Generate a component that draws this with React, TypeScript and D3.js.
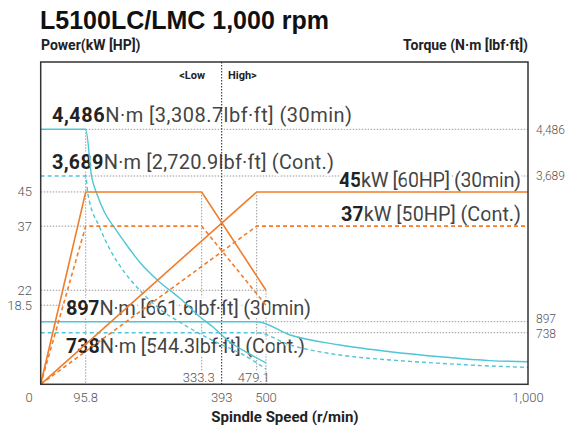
import * as d3 from 'd3';

const W = 569;
const H = 430;

// speed axis is drawn schematic (not proportional), so the scale is piecewise
const speedStops = [0, 95.8, 333.3, 393, 479.1, 500, 1000];
const torqueStops = [0, 738, 897, 3689, 4486];

const speedTicks = [0, 95.8, 393, 500, 1000];
const speedTicksInner = [333.3, 479.1];
const powerTicks = [45, 37, 22, 18.5];
const torqueTicks = [4486, 3689, 897, 738];

// power, kW
const lowPower30 = [[0, 0], [95.8, 45], [333.3, 45], [500, 22]];
const lowPowerCont = [[0, 0], [95.8, 37], [333.3, 37], [500, 18.5]];
const highPower30 = [[0, 0], [479.1, 45], [1000, 45]];
const highPowerCont = [[0, 0], [479.1, 37], [1000, 37]];

// torque, N·m
const lowTorque30 = [
  [0, 4486], [95.8, 4486], [108, 3670], [118, 3363], [134, 3000], [155, 2693],
  [175, 2425], [206, 2042], [247, 1659], [288, 1352], [330, 987], [367, 820],
  [413, 605], [457, 448], [500, 306],
];
const lowTorqueCont = [
  [0, 3689], [95.8, 3689], [100, 3363], [125, 2693], [146, 2272], [166, 1965],
  [206, 1505], [247, 1141], [288, 893], [330, 720], [388, 577], [438, 448], [500, 219],
];
const highTorque30 = [
  [0, 897], [479.1, 897], [546, 705], [641, 562], [737, 466], [832, 395], [927, 339], [1000, 323],
];
const highTorqueCont = [
  [0, 738], [479.1, 738], [546, 562], [641, 419], [737, 348], [832, 300], [927, 262], [1000, 243],
];

const ORANGE = '#f07d2b';
const CYAN = '#4fc5d6';
const GUIDE = '#9a9a9a';
const FONT = 'Roboto, "Noto Sans", sans-serif';

export default function App() {
  const left = 40.7, right = 528, top = 62, bottom = 384.3;

  const x = d3.scaleLinear()
    .domain(speedStops)
    .range([left, 85.7, 201.7, 221.7, 256.7, 266, right]);
  const yP = d3.scaleLinear().domain([0, 75.4]).range([bottom, top]);
  const yT = d3.scaleLinear()
    .domain(torqueStops)
    .range([bottom, 332.7, 321.7, 176, 129.3]);

  const powerLine = d3.line<number[]>().x(d => x(d[0])).y(d => yP(d[1]));
  const torqueLine = d3.line<number[]>()
    .x(d => x(d[0]))
    .y(d => yT(d[1]))
    .curve(d3.curveMonotoneX);

  const fmt = d3.format(',');

  // dotted guides: [x1, x2, y] in data units
  const powerGuides = [[0, 95.8, 45], [0, 95.8, 37], [0, 500, 22], [0, 479.1, 18.5]];
  const torqueGuides = [[95.8, 1000, 4486], [95.8, 1000, 3689], [479.1, 1000, 897], [479.1, 1000, 738]];
  const vGuides = [
    { s: 95.8, y1: yT(4486), y2: bottom },
    { s: 333.3, y1: yP(45), y2: yP(2.9) },
    { s: 479.1, y1: yP(45), y2: yP(2.9) },
    { s: 500, y1: yP(22), y2: bottom },
  ];

  const halo = { stroke: '#fff', strokeWidth: 5, paintOrder: 'stroke' as const, strokeLinejoin: 'round' as const };

  const notes = [
    { num: '4,486', rest: 'N·m [3,308.7lbf·ft] (30min)', x: 52, y: 121.5, anchor: 'start', len: 300 },
    { num: '3,689', rest: 'N·m [2,720.9lbf·ft] (Cont.)', x: 52, y: 169, anchor: 'start', len: 282 },
    { num: '45', rest: 'kW [60HP] (30min)', x: 521, y: 187, anchor: 'end', len: 182 },
    { num: '37', rest: 'kW [50HP] (Cont.)', x: 521, y: 221, anchor: 'end', len: 180 },
    { num: '897', rest: 'N·m [661.6lbf·ft] (30min)', x: 66, y: 315, anchor: 'start', len: 245 },
    { num: '738', rest: 'N·m [544.3lbf·ft] (Cont.)', x: 66, y: 353, anchor: 'start', len: 239 },
  ];

  // small offsets so the two close torque labels don't collide
  const torqueTickShift: Record<number, number> = { 897: -3, 738: 1 };

  return (
    <svg width={W} height={H} style={{ position: 'absolute', left: 0, top: 0, background: '#fff' }} fontFamily={FONT}>
      <text x={40} y={29} fontFamily='"Liberation Sans", Arial, sans-serif' fontWeight={700} fontSize={25} fill="#111">
        L5100LC/LMC 1,000 rpm
      </text>
      <text x={41} y={50} fontWeight={700} fontSize={14} fill="#222">Power(kW [HP])</text>
      <text x={right} y={50} textAnchor="end" fontWeight={700} fontSize={14} fill="#222">Torque (N·m [lbf·ft])</text>

      {/* guides */}
      <g stroke={GUIDE} strokeWidth={1} strokeDasharray="1.5 1.5" fill="none">
        {powerGuides.map((g, i) => (
          <line key={'p' + i} x1={x(g[0])} x2={x(g[1])} y1={yP(g[2])} y2={yP(g[2])} />
        ))}
        {torqueGuides.map((g, i) => (
          <line key={'t' + i} x1={x(g[0])} x2={x(g[1])} y1={yT(g[2])} y2={yT(g[2])} />
        ))}
        {vGuides.map((g, i) => (
          <line key={'v' + i} x1={x(g.s)} x2={x(g.s)} y1={g.y1} y2={g.y2} />
        ))}
      </g>

      {/* annotations */}
      {notes.map((n, i) => (
        <text key={i} x={n.x} y={n.y} textAnchor={n.anchor} fontSize={20}
          textLength={n.len} lengthAdjust="spacing" {...halo}>
          <tspan fontWeight={700} fill="#222">{n.num}</tspan>
          <tspan fill="#444">{n.rest}</tspan>
        </text>
      ))}

      {/* low / high divider */}
      <line x1={x(393)} x2={x(393)} y1={top} y2={bottom} stroke="#222" strokeWidth={1} strokeDasharray="1.5 1.5" />
      <text x={205} y={79} textAnchor="end" fontWeight={700} fontSize={11} fill="#222">{'<Low'}</text>
      <text x={228} y={79} fontWeight={700} fontSize={11} fill="#222">{'High>'}</text>

      {/* curves */}
      <g fill="none" strokeWidth={1.4}>
        <path d={torqueLine(lowTorque30) || ''} stroke={CYAN} />
        <path d={torqueLine(lowTorqueCont) || ''} stroke={CYAN} strokeDasharray="4 3" />
        <path d={torqueLine(highTorque30) || ''} stroke={CYAN} />
        <path d={torqueLine(highTorqueCont) || ''} stroke={CYAN} strokeDasharray="4 3" />
        <path d={powerLine(lowPower30) || ''} stroke={ORANGE} strokeWidth={1.6} />
        <path d={powerLine(lowPowerCont) || ''} stroke={ORANGE} strokeWidth={1.6} strokeDasharray="4 3" />
        <path d={powerLine(highPower30) || ''} stroke={ORANGE} strokeWidth={1.6} />
        <path d={powerLine(highPowerCont) || ''} stroke={ORANGE} strokeWidth={1.6} strokeDasharray="4 3" />
      </g>

      {/* frame */}
      <rect x={left} y={top} width={right - left} height={bottom - top} fill="none" stroke="#333" strokeWidth={1.5} />

      {/* ticks */}
      <g fontSize={13} fill="#555" fontWeight={300}>
        {powerTicks.map(v => (
          <text key={v} x={32} y={yP(v)} dy="0.35em" textAnchor="end">{v}</text>
        ))}
        {torqueTicks.map(v => (
          <text key={v} x={536} y={yT(v) + (torqueTickShift[v] || 0)} dy="0.35em" fontSize={12}>{fmt(v)}</text>
        ))}
        {speedTicks.map(v => (
          <text key={v} x={v === 0 ? 29 : x(v)} y={402} textAnchor="middle">{fmt(v)}</text>
        ))}
        {speedTicksInner.map(v => (
          <text key={v} x={x(v) - 3} y={382} textAnchor="middle">{v}</text>
        ))}
      </g>
      <text x={285} y={422} textAnchor="middle" fontWeight={700} fontSize={15} fill="#222">Spindle Speed (r/min)</text>
    </svg>
  );
}
